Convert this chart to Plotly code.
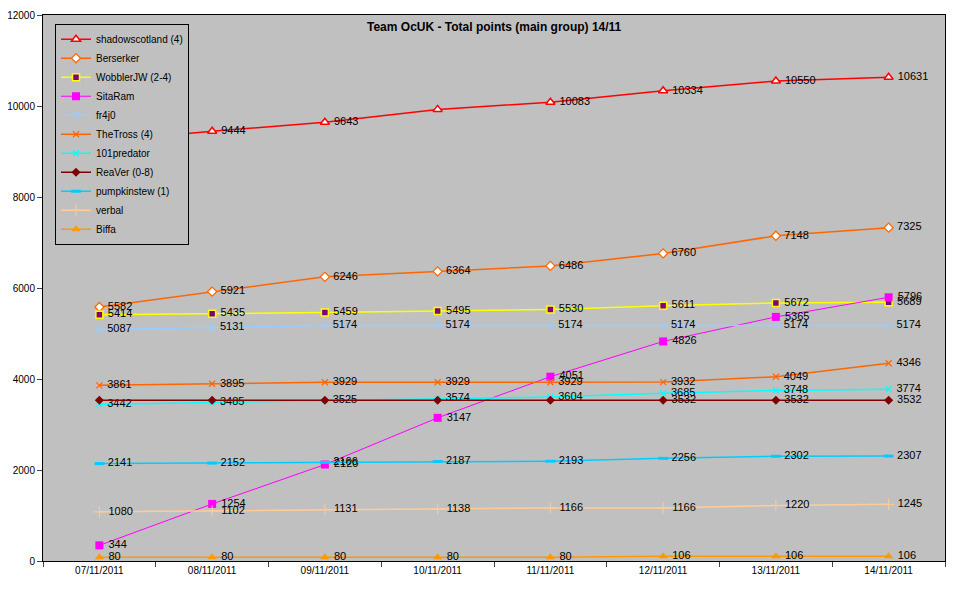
import plotly.graph_objects as go

dates = ["07/11/2011", "08/11/2011", "09/11/2011", "10/11/2011",
         "11/11/2011", "12/11/2011", "13/11/2011", "14/11/2011"]

shadowscotland = [9222, 9444, 9643, 9925, 10083, 10334, 10550, 10631]
berserker = [5582, 5921, 6246, 6364, 6486, 6760, 7148, 7325]
wobblerjw = [5414, 5435, 5459, 5495, 5530, 5611, 5672, 5689]
sitaram = [344, 1254, 2120, 3147, 4051, 4826, 5365, 5796]
fr4j0 = [5087, 5131, 5174, 5174, 5174, 5174, 5174, 5174]
thetross = [3861, 3895, 3929, 3929, 3929, 3932, 4049, 4346]
predator101 = [3442, 3485, 3525, 3574, 3604, 3685, 3748, 3774]
reaver = [3532, 3532, 3532, 3532, 3532, 3532, 3532, 3532]
pumpkinstew = [2141, 2152, 2166, 2187, 2193, 2256, 2302, 2307]
verbal = [1080, 1102, 1131, 1138, 1166, 1166, 1220, 1245]
biffa = [80, 80, 80, 80, 80, 106, 106, 106]

series = [
    ("shadowscotland (4)", shadowscotland, "#FF0000", dict(symbol="triangle-up", color="#FFFFFF", size=8, line=dict(color="#FF0000", width=1.5)), 1.5),
    ("Berserker", berserker, "#FF6600", dict(symbol="diamond", color="#FFFFFF", size=7, line=dict(color="#FF6600", width=1.2)), 1.5),
    ("WobblerJW (2-4)", wobblerjw, "#FFFF00", dict(symbol="square", color="#800080", size=7, line=dict(color="#FFFF00", width=1.5)), 1.5),
    ("SitaRam", sitaram, "#FF00FF", dict(symbol="square", color="#FF00FF", size=8, line=dict(width=0)), 1),
    ("fr4j0", fr4j0, "#99CCFF", dict(symbol="x-thin", color="#99CCFF", size=6, line=dict(color="#99CCFF", width=1.2)), 1.5),
    ("TheTross (4)", thetross, "#FF6600", dict(symbol="x-thin", color="#FF6600", size=6, line=dict(color="#FF6600", width=1.2)), 1.5),
    ("101predator", predator101, "#00FFFF", dict(symbol="x-thin", color="#00FFFF", size=6, line=dict(color="#00FFFF", width=1.2)), 1.5),
    ("ReaVer (0-8)", reaver, "#800000", dict(symbol="diamond", color="#800000", size=7, line=dict(width=0)), 1.5),
    ("pumpkinstew (1)", pumpkinstew, "#00CCFF", dict(symbol="line-ew", color="#00CCFF", size=7, line=dict(color="#00CCFF", width=3)), 1.5),
    ("verbal", verbal, "#FFCC99", dict(symbol="cross-thin", color="#FFCC99", size=8, line=dict(color="#FFCC99", width=1)), 1.5),
    ("Biffa", biffa, "#FF9900", dict(symbol="triangle-up", color="#FF9900", size=8, line=dict(width=0)), 1.5),
]

fig = go.Figure()
for name, vals, col, mk, lw in series:
    txt = [" " + str(v) for v in vals]
    if name.startswith("shadowscotland"):
        txt[0] = ""
        txt[3] = ""
    if name.startswith("ReaVer"):
        for i in range(5):
            txt[i] = ""
    fig.add_trace(go.Scatter(
        x=dates, y=vals, name=name, mode="lines+markers+text",
        line=dict(color=col, width=lw), marker=mk,
        text=txt, textposition="middle right",
        textfont=dict(family="Arial, Liberation Sans", size=11, color="#000000"),
        cliponaxis=False,
    ))

fig.update_layout(
    width=968, height=590,
    margin=dict(l=35, r=31, t=7, b=37, autoexpand=False),
    paper_bgcolor="#FFFFFF", plot_bgcolor="#C0C0C0",
    font=dict(family="Arial, Liberation Sans", size=10, color="#000000"),
    showlegend=True,
    legend=dict(x=0.0133, y=0.984, xanchor="left", yanchor="top",
                bgcolor="#C0C0C0", bordercolor="#000000", borderwidth=1,
                font=dict(size=10), tracegroupgap=0, itemwidth=30),
    annotations=[dict(text="<b>Team OcUK - Total points (main group) 14/11</b>",
                      x=0.5, y=0.995, xref="paper", yref="paper",
                      xanchor="center", yanchor="top", showarrow=False,
                      font=dict(size=12))],
    xaxis=dict(type="category", tickson="boundaries", ticks="outside", ticklen=5,
               showline=True, linecolor="#000000", linewidth=1, mirror=True,
               showgrid=False, tickfont=dict(size=10), range=[-0.5, 7.5],
               automargin=False),
    yaxis=dict(range=[0, 12000], dtick=2000, ticks="outside", ticklen=5,
               tickformat="d",
               showline=True, linecolor="#000000", linewidth=1, mirror=True,
               showgrid=False, zeroline=False, tickfont=dict(size=10),
               automargin=False),
)

fig.write_html("out.html")
